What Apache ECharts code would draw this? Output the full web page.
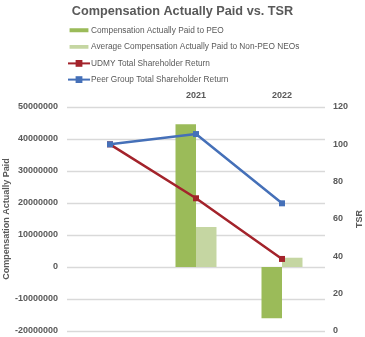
<!DOCTYPE html>
<html><head><meta charset="utf-8">
<script src="https://cdn.jsdelivr.net/npm/echarts@6/dist/echarts.min.js"></script>
<style>html,body{margin:0;padding:0;background:#fff}#c{width:365px;height:337px}</style>
</head><body><div id="c"></div>
<script>
const categories = ['', '2021', '2022'];
const peoCAP = [null, 44600000, -16000000];
const nonPeoCAP = [null, 12500000, 2900000];
const udmyTSR = [100, 71.1, 38.6];
const peerTSR = [100, 105.5, 68.4];
const leftTicks = {min: -20000000, max: 50000000, interval: 10000000};
const rightTicks = {min: 0, max: 120, interval: 20};

const gray = '#595959';
const font = 'Liberation Sans, Arial, sans-serif';
const barIcon = 'path://M0,2.5H20V6.5H0Z M0,0h0.01v0.01H0Z M0,9h0.01v0.01H0Z';
const chart = echarts.init(document.getElementById('c'), null, {renderer: 'canvas'});
chart.setOption({
  animation: false,
  title: {
    text: 'Compensation Actually Paid vs. TSR', left: 'center', top: 0,
    textStyle: {fontFamily: font, fontSize: 12.7, fontWeight: 'bold', color: gray}
  },
  legend: {
    orient: 'vertical', left: 67, top: 26, padding: 0, itemGap: 8.2, itemWidth: 22, itemHeight: 8.5,
    textStyle: {fontFamily: font, fontSize: 8.3, color: gray, padding: [0,0,0,-4]},
    data: [
      {name: 'Compensation Actually Paid to PEO', icon: barIcon},
      {name: 'Average Compensation Actually Paid to Non-PEO NEOs', icon: barIcon},
      {name: 'UDMY Total Shareholder Return'},
      {name: 'Peer Group Total Shareholder Return'}
    ]
  },
  grid: {left: 67, right: 40, top: 107, bottom: 6, containLabel: false, outerBoundsMode: 'none'},
  xAxis: {
    type: 'category', data: categories, position: 'top',
    axisLine: {show: false}, axisTick: {show: false},
    axisLabel: {fontFamily: font, fontSize: 9, fontWeight: 'bold', color: gray, margin: 7}
  },
  yAxis: [
    {
      type: 'value', min: leftTicks.min, max: leftTicks.max, interval: leftTicks.interval,
      name: 'Compensation Actually Paid', nameLocation: 'middle', nameRotate: 90, nameGap: 56,
      nameMoveOverlap: false,
      nameTextStyle: {fontFamily: font, fontSize: 9, fontWeight: 'bold', color: gray},
      axisLine: {show: false}, axisTick: {show: false},
      axisLabel: {fontFamily: font, fontSize: 9, fontWeight: 'bold', color: gray, margin: 9,
                  formatter: v => String(v)},
      splitLine: {lineStyle: {color: '#d9d9d9', width: 1.3}}
    },
    {
      type: 'value', min: rightTicks.min, max: rightTicks.max, interval: rightTicks.interval,
      name: 'TSR', nameLocation: 'middle', nameRotate: 90, nameGap: 30,
      nameMoveOverlap: false,
      nameTextStyle: {fontFamily: font, fontSize: 9, fontWeight: 'bold', color: gray},
      axisLine: {show: false}, axisTick: {show: false},
      axisLabel: {fontFamily: font, fontSize: 9, fontWeight: 'bold', color: gray, margin: 8},
      splitLine: {show: false}
    }
  ],
  series: [
    {name: 'Compensation Actually Paid to PEO', type: 'bar', yAxisIndex: 0, data: peoCAP,
     barWidth: 20.5, barGap: '0%', itemStyle: {color: '#9bbb59'}},
    {name: 'Average Compensation Actually Paid to Non-PEO NEOs', type: 'bar', yAxisIndex: 0, data: nonPeoCAP,
     barWidth: 20.5, barGap: '0%', itemStyle: {color: '#c5d6a2'}},
    {name: 'UDMY Total Shareholder Return', type: 'line', yAxisIndex: 1, data: udmyTSR,
     symbol: 'rect', symbolSize: 6, lineStyle: {color: '#a3232b', width: 2.5},
     itemStyle: {color: '#a3232b'}, z: 3},
    {name: 'Peer Group Total Shareholder Return', type: 'line', yAxisIndex: 1, data: peerTSR,
     symbol: 'rect', symbolSize: 6, lineStyle: {color: '#4570b8', width: 2.5},
     itemStyle: {color: '#4570b8'}, z: 4}
  ]
});
</script></body></html>
